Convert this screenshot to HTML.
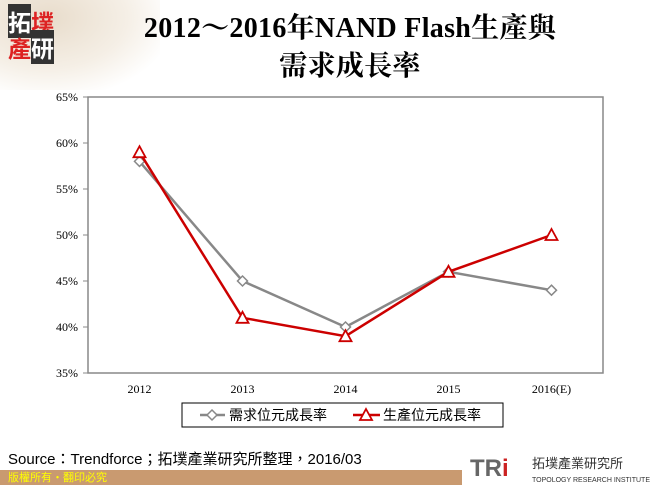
<!DOCTYPE html>
<html><head><meta charset="utf-8"><style>
body{margin:0;width:650px;height:485px;overflow:hidden;background:#fff;font-family:"Liberation Serif","Noto Serif CJK SC",serif;position:relative}
.abs{position:absolute}
</style></head><body>
<div class="abs" style="left:0;top:0;width:160px;height:90px;background:radial-gradient(ellipse at 30% 20%,#e8dccb 0%,#f5efe6 50%,#fff 80%)"></div>
<div class="abs" style="left:8px;top:8px;width:52px;height:56px;font-family:'Noto Sans CJK TC',sans-serif;font-size:23px;line-height:26px;font-weight:bold"><span style="background:#333;color:#fff">拓</span><span style="color:#d22">墣</span><br><span style="color:#d22">產</span><span style="background:#333;color:#fff">研</span></div>
<div class="abs" style="left:0;width:700px;top:10px;text-align:center;font-size:28px;font-weight:bold;line-height:38px;letter-spacing:0.3px;font-family:'Liberation Serif','Noto Serif CJK SC',serif">2012～2016年NAND Flash生產與<br>需求成長率</div>
<svg class="abs" style="left:0;top:0" width="650" height="485" id="chart"></svg>
<div class="abs" style="left:8px;top:448px;font-family:'Liberation Sans','Noto Sans CJK TC',sans-serif;font-size:15px">Source：Trendforce；拓墣產業研究所整理，2016/03</div>
<div class="abs" style="left:0;top:470px;width:650px;height:15px;background:#c99a70"></div>
<div class="abs" style="left:8px;top:470px;font-size:11px;color:#ff0;font-family:'Noto Sans CJK TC',sans-serif;line-height:15px">版權所有‧翻印必究</div>
<div class="abs" style="left:462px;top:456px;width:188px;height:29px;background:#fff;border-radius:14px 0 0 0"></div>
<div class="abs" style="left:470px;top:455px;font-family:'Liberation Sans',sans-serif;font-size:24px;font-weight:bold;color:#666">TR<span style="color:#c22">i</span></div>
<div class="abs" style="left:532px;top:456px;font-size:13px;font-family:'Noto Sans CJK TC',sans-serif;color:#333;line-height:14px">拓墣產業研究所<br><span style="font-size:7px;font-family:'Liberation Sans',sans-serif">TOPOLOGY RESEARCH INSTITUTE</span></div>
<script>
const categories=["2012","2013","2014","2015","2016(E)"];
const demand=[58,45,40,46,44];
const supply=[59,41,39,46,50];
const yTicks=[35,40,45,50,55,60,65];
const svg=document.getElementById('chart');const NS='http://www.w3.org/2000/svg';
const L=88,R=603,T=97,B=373,yMin=35,yMax=65;
const bw=(R-L)/categories.length;
const x=i=>L+bw*(i+0.5);
const y=v=>B-(v-yMin)/(yMax-yMin)*(B-T);
function mk(t,a,p){const e=document.createElementNS(NS,t);for(const k in a)e.setAttribute(k,a[k]);(p||svg).appendChild(e);return e;}
const box=mk('rect',{x:L,y:T,width:R-L,height:B-T,fill:'none',stroke:'#888','stroke-width':1.5});


yTicks.forEach(v=>{const t=mk('text',{x:L-10,y:y(v)+4,'text-anchor':'end','font-size':12,'font-family':'Liberation Serif'});t.textContent=v+'%';


mk('line',{x1:L-5,x2:L,y1:y(v),y2:y(v),stroke:'#888'});});
categories.forEach((c,i)=>{const t=mk('text',{x:x(i),y:B+20,'text-anchor':'middle','font-size':12,'font-family':'Liberation Serif'});t.textContent=c;

});
function series(vals,col,name,marker){
 const p=mk('polyline',{points:vals.map((v,i)=>x(i)+','+y(v)).join(' '),fill:'none',stroke:col,'stroke-width':2.5});
 
 
 vals.forEach((v,i)=>{const m=marker(x(i),y(v));
 
 });
}
const dia=(cx,cy)=>mk('polygon',{points:`${cx},${cy-5} ${cx+5},${cy} ${cx},${cy+5} ${cx-5},${cy}`,fill:'#fff',stroke:'#888','stroke-width':1.5});
const tri=(cx,cy)=>mk('polygon',{points:`${cx},${cy-6} ${cx+6},${cy+5} ${cx-6},${cy+5}`,fill:'#fff',stroke:'#c00','stroke-width':1.8});
series(demand,'#888','demand',dia);
series(supply,'#c00','supply',tri);
const lg=mk('rect',{x:182,y:403,width:321,height:24,fill:'#fff',stroke:'#000'});


mk('line',{x1:200,x2:225,y1:415,y2:415,stroke:'#888','stroke-width':2.5});dia(212,415);
const t1=mk('text',{x:229,y:420,'font-size':14,'font-family':'Noto Sans CJK TC'});t1.textContent='需求位元成長率';


mk('line',{x1:353,x2:380,y1:415,y2:415,stroke:'#c00','stroke-width':2.5});tri(366,415);
const t2=mk('text',{x:383,y:420,'font-size':14,'font-family':'Noto Sans CJK TC'});t2.textContent='生產位元成長率';


</script>
</body></html>
